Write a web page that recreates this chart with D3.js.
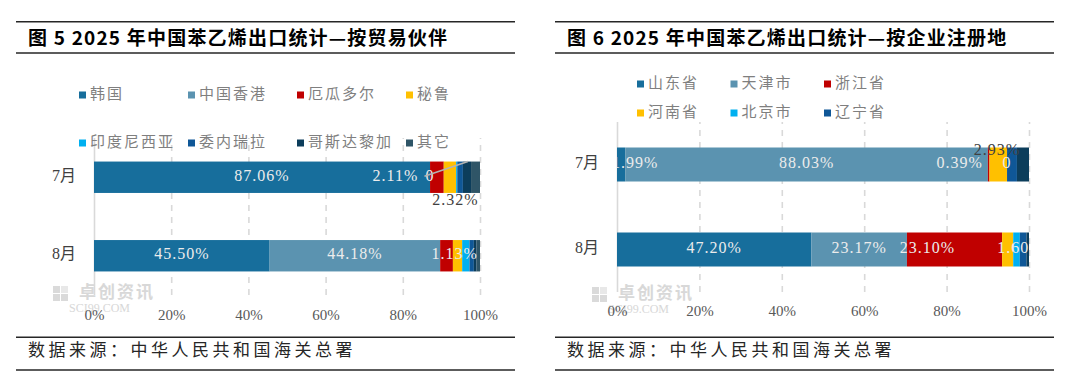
<!DOCTYPE html>
<html>
<head>
<meta charset="utf-8">
<script src="https://cdn.jsdelivr.net/npm/d3@7/dist/d3.min.js"></script>
<style>
  body { margin: 0; background: #fff; }
  svg { display: block; }
</style>
</head>
<body>
<svg id="chart" width="1080" height="377"></svg>
<script>
// data
var months = ["7月", "8月"];

var partners = ["韩国", "中国香港", "厄瓜多尔", "秘鲁", "印度尼西亚", "委内瑞拉", "哥斯达黎加", "其它"];
var partnerJul = [87.06, 0, 3.55, 3.2, 0.3, 1.46, 2.11, 2.32];
var partnerAug = [45.50, 44.18, 3.3, 2.4, 1.9, 1.13, 0.7, 0.89];
var partnerJulLabels = ["87.06%", "0", null, null, null, null, "2.11%", "2.32%"];
var partnerAugLabels = ["45.50%", "44.18%", null, null, null, "1.13%", null, null];

var regions = ["山东省", "天津市", "浙江省", "河南省", "北京市", "辽宁省", "其它"];
var regionJul = [1.99, 88.03, 0.39, 4.26, 0, 2.4, 2.93];
var regionAug = [47.20, 23.17, 23.10, 2.7, 1.60, 1.6, 0.63];
var regionJulLabels = ["1.99%", "88.03%", "0.39%", null, "0", null, "2.93%"];
var regionAugLabels = ["47.20%", "23.17%", "23.10%", null, "1.60%", null, null];

var tickValues = [0, 20, 40, 60, 80, 100];

(function() {
  var svg = d3.select("#chart");
  var serif = "Liberation Serif, Noto Sans CJK SC, serif";
  var sans = "Noto Sans CJK SC, Liberation Sans, sans-serif";

  var partnerColors = ["#176e9c", "#5b93b0", "#c00000", "#ffc000", "#00b0f0", "#0f5797", "#0c3d5b", "#2f5567"];
  var regionColors = ["#176e9c", "#5b93b0", "#c00000", "#ffc000", "#00b0f0", "#0f5797", "#0c3d5b"];

  drawPanel({
    left: 16, right: 515,
    title: "图 5 2025 年中国苯乙烯出口统计—按贸易伙伴",
    x0: 94, x1: 480, y0: 138, y1: 295, tickPad: 14,
    keys: partners, colors: partnerColors, legendCount: 8,
    legendX: 79, legendStep: 109, legendCols: 4, legendY: [95, 143],
    values: [partnerJul, partnerAug],
    labels: [partnerJulLabels, partnerAugLabels],
    // label nudges, "month-series" -> [dx, dy, dark text]
    nudges: { "0-6": [-71.5, 0], "0-7": [-20, 24, true], "1-5": [-17, 0] },
    leader: { month: 0, series: 6 },
    catX: 64,
    mark: { x: 53, y: 292 }
  });

  drawPanel({
    left: 555, right: 1054,
    title: "图 6 2025 年中国苯乙烯出口统计—按企业注册地",
    x0: 617, x1: 1029, y0: 122, y1: 292, tickPad: 13,
    keys: regions, colors: regionColors, legendCount: 6,
    legendX: 637, legendStep: 93.5, legendCols: 3, legendY: [84, 113],
    values: [regionJul, regionAug],
    labels: [regionJulLabels, regionAugLabels],
    nudges: { "0-0": [14, 0], "0-2": [-29, 0], "0-6": [-26, -13, true], "1-2": [-27, 0], "1-4": [4, 0] },
    leader: null,
    catX: 587,
    mark: { x: 592, y: 293 }
  });

  function drawPanel(p) {
    var g = svg.append("g");

    // rules and title
    [21.7, 53, 337.3, 370].forEach(function(y) {
      g.append("line")
        .attr("x1", p.left).attr("x2", p.right)
        .attr("y1", y).attr("y2", y)
        .attr("stroke", "#262626").attr("stroke-width", 1.4);
    });
    g.append("text")
      .attr("x", p.left + 12).attr("y", 40)
      .attr("dominant-baseline", "middle")
      .attr("font-family", sans).attr("font-weight", "bold")
      .attr("font-size", 19).attr("letter-spacing", 1.2).attr("fill", "#000")
      .text(p.title);
    g.append("text")
      .attr("x", p.left + 12).attr("y", 351)
      .attr("dominant-baseline", "middle")
      .attr("font-family", sans).attr("font-size", 17)
      .attr("letter-spacing", 3.5).attr("fill", "#262626")
      .text("数据来源：中华人民共和国海关总署");

    var x = d3.scaleLinear().domain([0, 100]).range([p.x0, p.x1]);
    var y = d3.scaleBand().domain(months).range([p.y0, p.y1])
      .paddingInner(0.6).paddingOuter(0.3);

    // watermark
    var wm = g.append("g").attr("opacity", 0.9);
    [[0, 0], [8, 0], [0, 8], [8, 8]].forEach(function(o, i) {
      wm.append("rect")
        .attr("x", p.mark.x + o[0]).attr("y", p.mark.y - 6 + o[1])
        .attr("width", 7).attr("height", 7)
        .attr("fill", i == 1 ? "#e6e6e6" : "#d6d6d6");
    });
    wm.append("text")
      .attr("x", p.mark.x + 26).attr("y", p.mark.y + 1)
      .attr("dominant-baseline", "middle")
      .attr("font-family", sans).attr("font-weight", "bold").attr("font-size", 17)
      .attr("letter-spacing", 2).attr("fill", "#d4d4d4")
      .text("卓创资讯");
    wm.append("text")
      .attr("x", p.mark.x + 16).attr("y", p.mark.y + 17)
      .attr("dominant-baseline", "middle")
      .attr("font-family", serif).attr("font-size", 12)
      .attr("fill", "#d4d4d4")
      .text("SCI99.COM");

    // grid + axis labels
    var axis = g.append("g")
      .attr("transform", "translate(0," + p.y1 + ")")
      .call(d3.axisBottom(x).tickValues(tickValues)
        .tickSize(-(p.y1 - p.y0)).tickPadding(p.tickPad)
        .tickFormat(function(d) { return d + "%"; }));
    axis.select(".domain").remove();
    axis.selectAll(".tick line")
      .attr("stroke", "#d9d9d9").attr("stroke-width", 1.6)
      .attr("stroke-dasharray", function(d) { return d == 0 ? null : "6,6"; });
    axis.selectAll(".tick text")
      .attr("font-family", serif).attr("font-size", 15).attr("fill", "#595959");

    // bars
    var clipId = "clip" + p.left;
    g.append("clipPath").attr("id", clipId).append("rect")
      .attr("x", p.x0).attr("y", p.y0 - 30).attr("width", p.x1 - p.x0).attr("height", p.y1 - p.y0 + 60);

    var stack = d3.stack().keys(d3.range(p.keys.length))
      .value(function(d, k) { return d[k]; });
    var series = stack(p.values);

    var bars = g.append("g");
    series.forEach(function(s, k) {
      bars.selectAll(null)
        .data(s)
        .enter().append("rect")
          .attr("x", function(d) { return x(d[0]); })
          .attr("y", function(d, i) { return y(months[i]); })
          .attr("width", function(d) { return x(d[1]) - x(d[0]); })
          .attr("height", y.bandwidth())
          .attr("fill", p.colors[k]);
    });

    // category labels
    months.forEach(function(m) {
      g.append("text")
        .attr("x", p.catX).attr("y", y(m) + y.bandwidth() / 2)
        .attr("text-anchor", "middle").attr("dominant-baseline", "middle")
        .attr("font-family", serif).attr("font-size", 16).attr("fill", "#404040")
        .text(m);
    });

    // data labels
    var lab = g.append("g").attr("clip-path", "url(#" + clipId + ")");
    months.forEach(function(m, i) {
      p.labels[i].forEach(function(t, k) {
        if (t == null) return;
        var d = series[k][i];
        var n = p.nudges[i + "-" + k] || [0, 0, false];
        var cx = (x(d[0]) + x(d[1])) / 2 + n[0];
        var cy = y(m) + y.bandwidth() / 2 + n[1];
        if (p.leader && p.leader.month == i && p.leader.series == k) {
          g.append("line")
            .attr("x1", cx + 29).attr("y1", cy - 1)
            .attr("x2", x(d[0]) + 5).attr("y2", y(m))
            .attr("stroke", "#b3b3b3").attr("stroke-width", 1.6);
        }
        lab.append("text")
          .attr("x", cx).attr("y", cy)
          .attr("text-anchor", "middle").attr("dominant-baseline", "middle")
          .attr("font-family", serif).attr("font-size", 16)
          .attr("letter-spacing", 1)
          .attr("fill", n[2] ? "#404040" : "#ececec")
          .text(t);
      });
    });

    // legend
    var legend = g.append("g");
    p.keys.slice(0, p.legendCount).forEach(function(name, k) {
      var lx = p.legendX + (k % p.legendCols) * p.legendStep;
      var ly = p.legendY[Math.floor(k / p.legendCols)];
      legend.append("rect")
        .attr("x", lx).attr("y", ly - 3.5)
        .attr("width", 7).attr("height", 7)
        .attr("fill", p.colors[k]);
      legend.append("text")
        .attr("x", lx + 11).attr("y", ly)
        .attr("dominant-baseline", "middle")
        .attr("font-family", sans).attr("font-size", 15)
        .attr("letter-spacing", 2).attr("fill", "#7f7f7f")
        .text(name);
    });
  }
})();
</script>
</body>
</html>
